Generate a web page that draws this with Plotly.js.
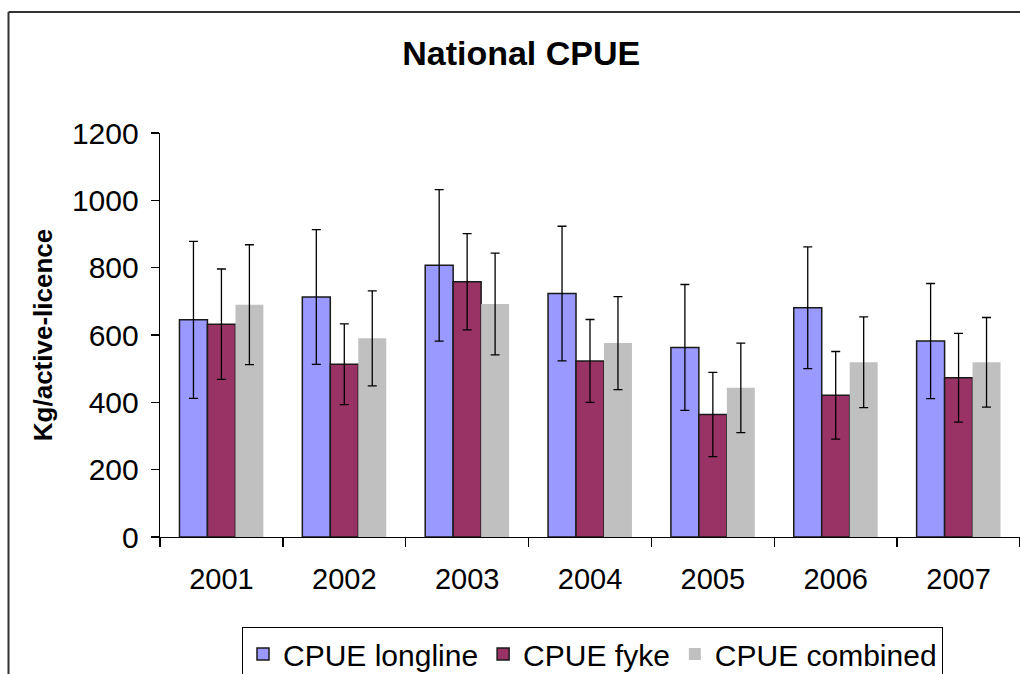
<!DOCTYPE html>
<html>
<head>
<meta charset="utf-8">
<script src="https://cdn.plot.ly/plotly-3.0.1.min.js"></script>
<style>
  html, body { margin: 0; padding: 0; background: #ffffff; }
  #chart { width: 1020px; height: 674px; }
</style>
</head>
<body>
<div id="chart"></div>
<script>
const years = ["2001", "2002", "2003", "2004", "2005", "2006", "2007"];
const longline = [645, 713, 807, 723, 563, 681, 582];
const longlineErr = [233, 200, 225, 200, 187, 181, 171];
const fyke = [632, 513, 758, 523, 364, 421, 473];
const fykeErr = [164, 120, 143, 123, 125, 130, 132];
const combined = [690, 590, 692, 576, 443, 519, 519];
const combinedErr = [178, 141, 151, 138, 133, 135, 133];
const yTicks = [0, 200, 400, 600, 800, 1000, 1200];

const errStyle = { type: "data", visible: true, color: "#000000", thickness: 1.3, width: 4.5 };

const traces = [
  {
    type: "bar", name: "CPUE longline", x: years, y: longline,
    marker: { color: "#9999FF", line: { color: "#1a1a1a", width: 1.5 } },
    error_y: Object.assign({ array: longlineErr }, errStyle)
  },
  {
    type: "bar", name: "CPUE fyke", x: years, y: fyke,
    marker: { color: "#993366", line: { color: "#1a1a1a", width: 1.5 } },
    error_y: Object.assign({ array: fykeErr }, errStyle)
  },
  {
    type: "bar", name: "CPUE combined", x: years, y: combined,
    marker: { color: "#C0C0C0", line: { width: 0 } },
    error_y: Object.assign({ array: combinedErr }, errStyle)
  }
];

const W = 1020, H = 674;
const m = { l: 160, r: 0, t: 133, b: 137 };
const pw = W - m.l - m.r, ph = H - m.t - m.b;
// outer chart-area frame (left and top edges), converted to paper coords
const fx = (8.5 - m.l) / pw;
const fy = (H - m.b - 12) / ph;

const layout = {
  width: W, height: H,
  margin: m,
  paper_bgcolor: "#ffffff",
  plot_bgcolor: "#ffffff",
  font: { family: "Liberation Sans, Arial, sans-serif", color: "#000000", size: 28 },
  title: {
    text: "<b>National CPUE</b>",
    font: { family: "Liberation Sans, Arial, sans-serif", size: 34, color: "#000000" },
    x: 0.511, xref: "container", xanchor: "center",
    y: 1 - 53 / H, yref: "container", yanchor: "middle"
  },
  barmode: "group",
  bargap: 0.317,
  bargroupgap: 0,
  showlegend: true,
  legend: {
    orientation: "h",
    xref: "container", yref: "container",
    x: 242 / W, xanchor: "left",
    y: 1 - 627 / H, yanchor: "top",
    bordercolor: "#000000", borderwidth: 1,
    bgcolor: "#ffffff",
    font: { size: 30, family: "Liberation Sans, Arial, sans-serif" },
    traceorder: "normal",
    itemwidth: 30
  },
  xaxis: {
    type: "category",
    showline: true, linecolor: "#000000", linewidth: 1.3,
    ticks: "outside", ticklen: 9, tickwidth: 1.3, tickcolor: "#000000",
    tickson: "boundaries",
    showgrid: false, zeroline: false,
    tickfont: { size: 29 },
    ticklabelstandoff: 16
  },
  yaxis: {
    range: [0, 1200],
    tickvals: yTicks,
    ticktext: yTicks.map(String),
    showline: true, linecolor: "#000000", linewidth: 1.3,
    ticks: "outside", ticklen: 8, tickwidth: 1.3, tickcolor: "#000000",
    showgrid: false, zeroline: false,
    tickfont: { size: 30 },
    ticklabelstandoff: 6,
    title: {
      text: "<b>Kg/active-licence</b>",
      font: { size: 26, family: "Liberation Sans, Arial, sans-serif" },
      standoff: 12
    },
    automargin: false
  },
  shapes: [
    { type: "line", xref: "paper", yref: "paper", x0: fx, x1: fx, y0: fy, y1: -1, line: { color: "#333333", width: 2 } },
    { type: "line", xref: "paper", yref: "paper", x0: fx, x1: 1.1, y0: fy, y1: fy, line: { color: "#333333", width: 2 } }
  ]
};

Plotly.newPlot("chart", traces, layout, { displayModeBar: false, staticPlot: true });
</script>
</body>
</html>
